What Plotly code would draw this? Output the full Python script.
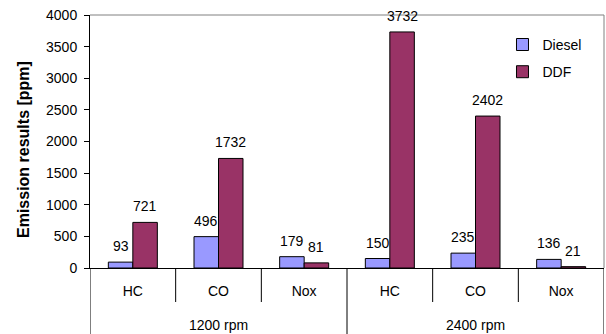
import plotly.graph_objects as go

# Emission data per operating point (speed) and pollutant
speeds = ["1200 rpm", "2400 rpm"]
pollutants = ["HC", "CO", "Nox", "HC", "CO", "Nox"]
diesel = [93, 496, 179, 150, 235, 136]
ddf = [721, 1732, 81, 3732, 2402, 21]
y_ticks = [0, 500, 1000, 1500, 2000, 2500, 3000, 3500, 4000]

FONT = "Liberation Sans, Arial, sans-serif"
BARGAP = 0.428
bar_w = (1 - BARGAP) / 2
xpos = list(range(len(pollutants)))

fig = go.Figure()
fig.add_trace(go.Bar(
    x=xpos, y=diesel, name="Diesel", legendgroup="a",
    marker=dict(color="#9999FF", line=dict(color="black", width=1)),
))
fig.add_trace(go.Bar(
    x=xpos, y=ddf, name="DDF", legendgroup="b",
    marker=dict(color="#993366", line=dict(color="black", width=1)),
))

annotations = []
# value labels above each bar
for i, (d, f) in enumerate(zip(diesel, ddf)):
    for xv, val in ((i - bar_w / 2, d), (i + bar_w / 2, f)):
        annotations.append(dict(
            x=xv, y=val, xref="x", yref="y", text=str(val), showarrow=False,
            yanchor="middle", yshift=16, font=dict(family=FONT, size=14, color="black"),
        ))

# outer category (speed) labels, centred under each group of three
n_inner = 3
for g, label in enumerate(speeds):
    annotations.append(dict(
        x=g * n_inner + (n_inner - 1) / 2, y=-57 / 253, xref="x", yref="paper",
        text=label, showarrow=False, yanchor="middle",
        font=dict(family=FONT, size=14, color="black"),
    ))

# y-axis title
annotations.append(dict(
    x=-67 / 514, y=(268 - 150) / 253, xref="paper", yref="paper",
    text="<b>Emission results [ppm]</b>", textangle=-90, showarrow=False,
    xanchor="center", yanchor="middle",
    font=dict(family=FONT, size=16, color="black"),
))

shapes = []
# plot-area frame (top and right)
shapes.append(dict(type="line", xref="paper", yref="paper", x0=0, x1=1, y0=1, y1=1,
                   line=dict(color="#808080", width=1)))
shapes.append(dict(type="line", xref="paper", yref="paper", x0=1, x1=1, y0=0, y1=1,
                   line=dict(color="#808080", width=1)))
# category dividers below the axis
for b in range(len(pollutants) + 1):
    xb = b - 0.5
    outer = b % n_inner == 0
    shapes.append(dict(
        type="line", xref="x", yref="paper", x0=xb, x1=xb,
        y0=0, y1=(-66 / 253) if outer else (-34 / 253),
        line=dict(color="black", width=1),
    ))

fig.update_layout(
    width=606, height=334,
    margin=dict(l=90, r=2, t=15, b=66),
    paper_bgcolor="white", plot_bgcolor="white",
    barmode="group", bargap=BARGAP, bargroupgap=0,
    font=dict(family=FONT, size=14, color="black"),
    showlegend=True,
    legend=dict(
        x=0.8025, y=0.945, xanchor="left", yanchor="top",
        bgcolor="rgba(0,0,0,0)", borderwidth=0,
        font=dict(family=FONT, size=14, color="black"),
        tracegroupgap=6, traceorder="grouped",
    ),
    annotations=annotations,
    shapes=shapes,
    xaxis=dict(
        range=[-0.5, len(pollutants) - 0.5],
        tickmode="array", tickvals=xpos, ticktext=pollutants,
        ticks="", showgrid=False, zeroline=False,
        showline=True, linecolor="black", linewidth=1,
        ticklabelstandoff=10,
        tickfont=dict(family=FONT, size=14, color="black"),
    ),
    yaxis=dict(
        range=[0, 4000], tickmode="array", tickvals=y_ticks,
        ticks="outside", ticklen=5, tickcolor="black",
        showgrid=False, zeroline=False,
        showline=True, linecolor="black", linewidth=1,
        ticklabelstandoff=4,
        tickfont=dict(family=FONT, size=14, color="black"),
    ),
)

fig.write_html("out.html")
